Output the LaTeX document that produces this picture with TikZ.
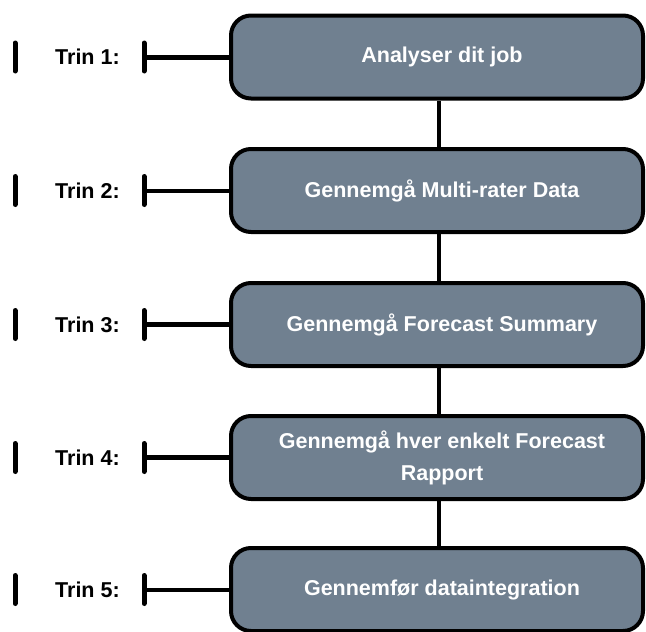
\documentclass[tikz,border=0pt]{standalone}
\usepackage{fontspec}
\setmainfont{Liberation Sans}
\begin{document}
\begin{tikzpicture}[x=1pt,y=-1pt,
  stepbox/.style={draw=black, line width=4pt, fill=boxfill, rounded corners=20pt,
    minimum width=412pt, minimum height=83pt, inner sep=0pt},
  boxtext/.style={text=white, font=\fontsize{21.5}{32}\selectfont\bfseries, align=center},
  trintext/.style={font=\fontsize{21.5}{24}\selectfont\bfseries, anchor=west, inner sep=0pt},
  tickmark/.style={line width=5pt, line cap=round},
  vconn/.style={line width=4pt}]
\definecolor{boxfill}{RGB}{112,128,144}
\useasboundingbox (0,0) rectangle (646,632);
\foreach \i/\y/\t/\w in {1/57/{Analyser dit job}/5,
                       2/190.5/{Gennemgå Multi-rater Data}/4,
                       3/324.5/{Gennemgå Forecast Summary}/5.5,
                       4/457.5/{Gennemgå hver enkelt Forecast\\Rapport}/5.5,
                       5/589.5/{Gennemfør dataintegration}/4}{
  \node[stepbox] (b\i) at (437,\y) {};
  \node[boxtext] (t\i) at (442,\y) {\t};
  \node[trintext] (l\i) at (55,\y) {Trin \i:};
  \coordinate (lt\i a) at (15,\y-14);
  \coordinate (lt\i b) at (15,\y+14);
  \coordinate (rt\i a) at (144,\y-14);
  \coordinate (rt\i b) at (144,\y+14);
  \coordinate (h\i) at (144,\y);
  \draw[tickmark] (lt\i a) -- (lt\i b);
  \draw[tickmark] (rt\i a) -- (rt\i b);
  \draw[line width=\w pt] (h\i) -- (b\i.west);
}
\foreach \a/\b in {1/2,2/3,3/4,4/5}{
  \draw[vconn] (b\a.south -| 439,0) -- (b\b.north -| 439,0);
}
\end{tikzpicture}
\end{document}
